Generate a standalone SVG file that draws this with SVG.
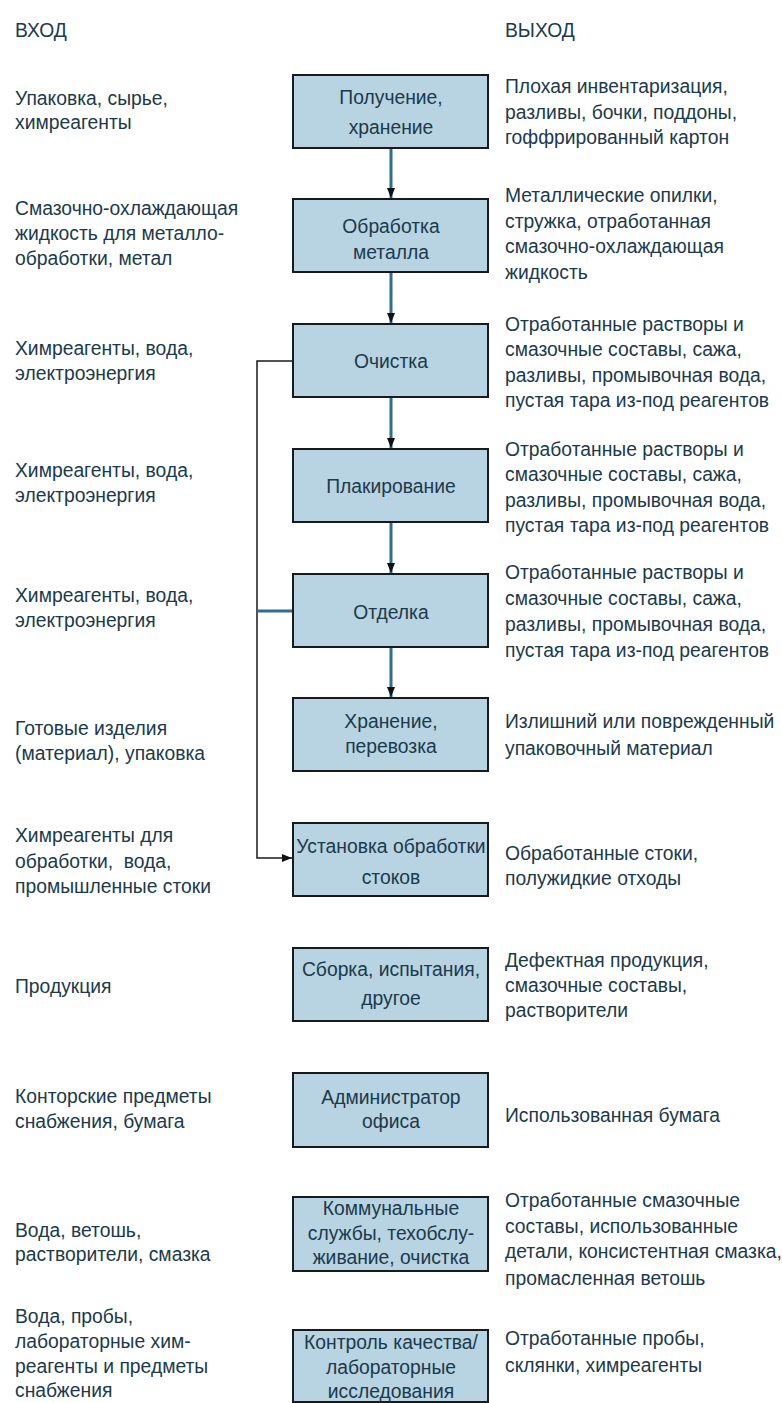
<svg xmlns="http://www.w3.org/2000/svg" width="782" height="1403" viewBox="0 0 782 1403">
<style>
text{font-family:"Liberation Sans",Arial,sans-serif;font-size:21px;fill:#1b3a4b}
.c{text-anchor:middle}
.box{fill:#b8d3e1;stroke:#1a1a1a;stroke-width:2}
.flow{stroke:#2f6d96;stroke-width:3;fill:none}
.thin{stroke:#1a1a1a;stroke-width:1.5;fill:none}
</style>
<defs>
<marker id="ah" viewBox="0 0 10 10" refX="10" refY="5" markerWidth="10" markerHeight="10" markerUnits="userSpaceOnUse" orient="auto">
<path d="M0,1 L10,5 L0,9 Z" fill="#111"/>
</marker>
</defs>
<rect width="782" height="1403" fill="#fff"/>
<g id="headers" transform="scale(0.92 1)">
<text x="16.3" y="37">ВХОД</text>
<text x="548.9" y="37">ВЫХОД</text>
</g>
<g id="connectors">
<line class="flow" x1="391" y1="148" x2="391" y2="198" marker-end="url(#ah)"/>
<line class="flow" x1="391" y1="272" x2="391" y2="323" marker-end="url(#ah)"/>
<line class="flow" x1="391" y1="397" x2="391" y2="448" marker-end="url(#ah)"/>
<line class="flow" x1="391" y1="522" x2="391" y2="573" marker-end="url(#ah)"/>
<line class="flow" x1="391" y1="647" x2="391" y2="697" marker-end="url(#ah)"/>
<polyline class="thin" points="293,361 257,361 257,858 292,858" marker-end="url(#ah)"/>
<line class="flow" x1="257" y1="611" x2="293" y2="611"/>
</g>
<g id="inputs" transform="scale(0.92 1)">
<text x="16.3" y="105">Упаковка, сырье,</text>
<text x="16.3" y="129">химреагенты</text>
<text x="16.3" y="215">Смазочно-охлаждающая</text>
<text x="16.3" y="240">жидкость для металло-</text>
<text x="16.3" y="265">обработки, метал</text>
<text x="16.3" y="355">Химреагенты, вода,</text>
<text x="16.3" y="380">электроэнергия</text>
<text x="16.3" y="477">Химреагенты, вода,</text>
<text x="16.3" y="502">электроэнергия</text>
<text x="16.3" y="602">Химреагенты, вода,</text>
<text x="16.3" y="627">электроэнергия</text>
<text x="16.3" y="735">Готовые изделия</text>
<text x="16.3" y="760">(материал), упаковка</text>
<text x="16.3" y="842">Химреагенты для</text>
<text x="16.3" y="868" xml:space="preserve">обработки,  вода,</text>
<text x="16.3" y="893">промышленные стоки</text>
<text x="16.3" y="993">Продукция</text>
<text x="16.3" y="1103">Конторские предметы</text>
<text x="16.3" y="1128">снабжения, бумага</text>
<text x="16.3" y="1237">Вода, ветошь,</text>
<text x="16.3" y="1261">растворители, смазка</text>
<text x="16.3" y="1323">Вода, пробы,</text>
<text x="16.3" y="1348">лабораторные хим-</text>
<text x="16.3" y="1373">реагенты и предметы</text>
<text x="16.3" y="1397">снабжения</text>
</g>
<g id="outputs" transform="scale(0.92 1)">
<text x="548.9" y="93">Плохая инвентаризация,</text>
<text x="548.9" y="119">разливы, бочки, поддоны,</text>
<text x="548.9" y="144">гоффрированный картон</text>
<text x="548.9" y="202">Металлические опилки,</text>
<text x="548.9" y="228">стружка, отработанная</text>
<text x="548.9" y="253">смазочно-охлаждающая</text>
<text x="548.9" y="279">жидкость</text>
<text x="548.9" y="331">Отработанные растворы и</text>
<text x="548.9" y="356">смазочные составы, сажа,</text>
<text x="548.9" y="382">разливы, промывочная вода,</text>
<text x="548.9" y="407">пустая тара из-под реагентов</text>
<text x="548.9" y="456">Отработанные растворы и</text>
<text x="548.9" y="481">смазочные составы, сажа,</text>
<text x="548.9" y="507">разливы, промывочная вода,</text>
<text x="548.9" y="532">пустая тара из-под реагентов</text>
<text x="548.9" y="579">Отработанные растворы и</text>
<text x="548.9" y="605">смазочные составы, сажа,</text>
<text x="548.9" y="631">разливы, промывочная вода,</text>
<text x="548.9" y="657">пустая тара из-под реагентов</text>
<text x="548.9" y="728">Излишний или поврежденный</text>
<text x="548.9" y="755">упаковочный материал</text>
<text x="548.9" y="860">Обработанные стоки,</text>
<text x="548.9" y="885">полужидкие отходы</text>
<text x="548.9" y="967">Дефектная продукция,</text>
<text x="548.9" y="992">смазочные составы,</text>
<text x="548.9" y="1017">растворители</text>
<text x="548.9" y="1122">Использованная бумага</text>
<text x="548.9" y="1207">Отработанные смазочные</text>
<text x="548.9" y="1233">составы, использованные</text>
<text x="548.9" y="1258">детали, консистентная смазка,</text>
<text x="548.9" y="1285">промасленная ветошь</text>
<text x="548.9" y="1345">Отработанные пробы,</text>
<text x="548.9" y="1372">склянки, химреагенты</text>
</g>
<g id="n1"><rect class="box" x="293" y="75" width="195" height="73"/>
<g transform="scale(0.92 1)"><text class="c" x="425" y="104">Получение,</text><text class="c" x="425" y="134">хранение</text></g></g>
<g id="n2"><rect class="box" x="293" y="199" width="195" height="73"/>
<g transform="scale(0.92 1)"><text class="c" x="425" y="233">Обработка</text><text class="c" x="425" y="259">металла</text></g></g>
<g id="n3"><rect class="box" x="293" y="324" width="195" height="73"/>
<g transform="scale(0.92 1)"><text class="c" x="425" y="368">Очистка</text></g></g>
<g id="n4"><rect class="box" x="293" y="449" width="195" height="73"/>
<g transform="scale(0.92 1)"><text class="c" x="425" y="493">Плакирование</text></g></g>
<g id="n5"><rect class="box" x="293" y="574" width="195" height="73"/>
<g transform="scale(0.92 1)"><text class="c" x="425" y="619">Отделка</text></g></g>
<g id="n6"><rect class="box" x="293" y="698" width="195" height="73"/>
<g transform="scale(0.92 1)"><text class="c" x="425" y="728">Хранение,</text><text class="c" x="425" y="753">перевозка</text></g></g>
<g id="n7"><rect class="box" x="293" y="823" width="195" height="73"/>
<g transform="scale(0.92 1)"><text class="c" x="425" y="853">Установка обработки</text><text class="c" x="425" y="884">стоков</text></g></g>
<g id="n8"><rect class="box" x="293" y="948" width="195" height="73"/>
<g transform="scale(0.92 1)"><text class="c" x="425" y="976">Сборка, испытания,</text><text class="c" x="425" y="1005">другое</text></g></g>
<g id="n9"><rect class="box" x="293" y="1073" width="195" height="74"/>
<g transform="scale(0.92 1)"><text class="c" x="425" y="1104">Администратор</text><text class="c" x="425" y="1128">офиса</text></g></g>
<g id="n10"><rect class="box" x="293" y="1197" width="195" height="74"/>
<g transform="scale(0.92 1)"><text class="c" x="425" y="1215">Коммунальные</text><text class="c" x="425" y="1240">службы, техобслу-</text><text class="c" x="425" y="1264">живание, очистка</text></g></g>
<g id="n11"><rect class="box" x="293" y="1330" width="195" height="72"/>
<g transform="scale(0.92 1)"><text class="c" x="425" y="1349">Контроль качества/</text><text class="c" x="425" y="1374">лабораторные</text><text class="c" x="425" y="1398">исследования</text></g></g>
</svg>
